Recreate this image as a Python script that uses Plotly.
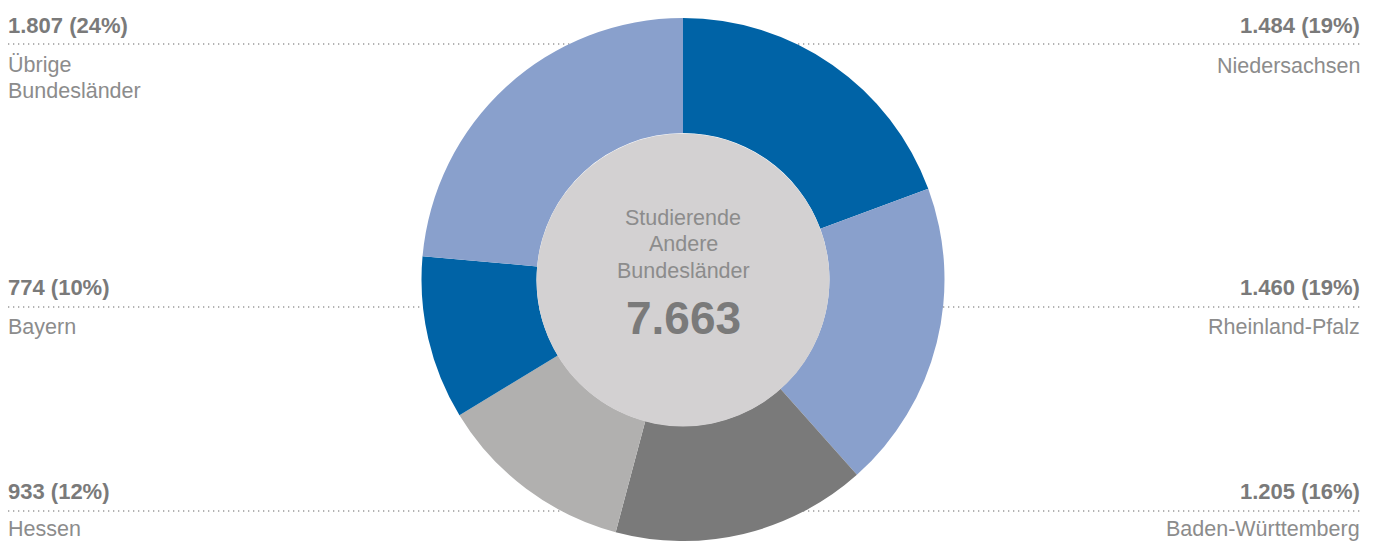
import plotly.graph_objects as go

# ---- data ----
categories = ["Niedersachsen", "Rheinland-Pfalz", "Baden-Württemberg", "Hessen", "Bayern", "Übrige<br>Bundesländer"]
values = [1484, 1460, 1205, 933, 774, 1807]
slice_colors = ["#0063a6", "#89a0cc", "#7a7a7a", "#b1b0af", "#0063a6", "#89a0cc"]
center_title = "Studierende<br>Andere<br>Bundesländer"

total = sum(values)

# the page body has an 8px margin; compensate so window pixels match
OX, OY = 8, 8
W, H = 1376 - OX, 541 - OY

def de(n):
    return f"{n:,}".replace(",", ".")

def px(p):
    return (p - OX) / W

def py(p):
    return 1 - (p - OY) / H

fig = go.Figure()

# pie geometry: center (683, 280), radius ~262 (window pixels)
CX, CY, R = 683, 280, 262
dom_y = [py(CY + R), py(CY - R)]
fig.add_trace(go.Pie(
    labels=categories, values=values, sort=False, direction="clockwise", rotation=0,
    hole=0.56, marker=dict(colors=slice_colors, line=dict(width=0)),
    textinfo="none", hoverinfo="label+value+percent", showlegend=False,
    domain=dict(x=[px(CX - R), px(CX + R)], y=[max(0, dom_y[0]), dom_y[1]]),
))

# center filled circle
r_in = 146.5
fig.add_shape(type="circle", xref="paper", yref="paper",
              x0=px(CX - r_in), x1=px(CX + r_in),
              y0=py(CY + r_in), y1=py(CY - r_in),
              fillcolor="#d3d1d2", line=dict(width=0), layer="above")

# label layout: (category index, side, value-center y, line y, first label-line center y)
placements = [
    (5, "left", 25, 44, 65),
    (0, "right", 25, 44, 66),
    (4, "left", 287, 307, 327),
    (1, "right", 287, 307, 327),
    (3, "left", 491, 511, 529),
    (2, "right", 491, 511, 529),
]
LINE_STEP = 26

FONT = "Liberation Sans, Arial, sans-serif"
val_font = dict(family=FONT, size=22, color="#7a7a7a")
lab_font = dict(family=FONT, size=21.5, color="#8c8c8c")

for idx, side, vy, ly, lby in placements:
    pct = round(values[idx] / total * 100)
    x = px(6) if side == "left" else px(1362)
    xa = "left" if side == "left" else "right"
    fig.add_annotation(text=f"<b>{de(values[idx])} ({pct}%)</b>", x=x, y=py(vy), xref="paper", yref="paper",
                       xanchor=xa, yanchor="middle", showarrow=False, font=val_font, align=xa)
    for k, part in enumerate(categories[idx].split("<br>")):
        fig.add_annotation(text=part, x=x, y=py(lby + k * LINE_STEP), xref="paper", yref="paper",
                           xanchor=xa, yanchor="middle", showarrow=False, font=lab_font, align=xa)
    x0, x1 = (8, CX) if side == "left" else (CX, 1360)
    fig.add_shape(type="line", xref="paper", yref="paper", x0=px(x0), x1=px(x1), y0=py(ly), y1=py(ly),
                  line=dict(color="#9a9a9a", width=1.3, dash="1.3px,3.7px"), layer="below")

# center text
for k, part in enumerate(center_title.split("<br>")):
    fig.add_annotation(text=part, x=px(CX), y=py(218 + k * 26.5), xref="paper", yref="paper",
                       xanchor="center", yanchor="middle", showarrow=False,
                       font=dict(family=FONT, size=21.5, color="#8c8c8c"))
fig.add_annotation(text=f"<b>{de(total)}</b>", x=px(CX), y=py(318), xref="paper", yref="paper",
                   xanchor="center", yanchor="middle", showarrow=False,
                   font=dict(family=FONT, size=46, color="#7a7a7a"))

fig.update_layout(width=W, height=H, margin=dict(l=0, r=0, t=0, b=0),
                  paper_bgcolor="white", plot_bgcolor="white")

fig.write_html("out.html")
